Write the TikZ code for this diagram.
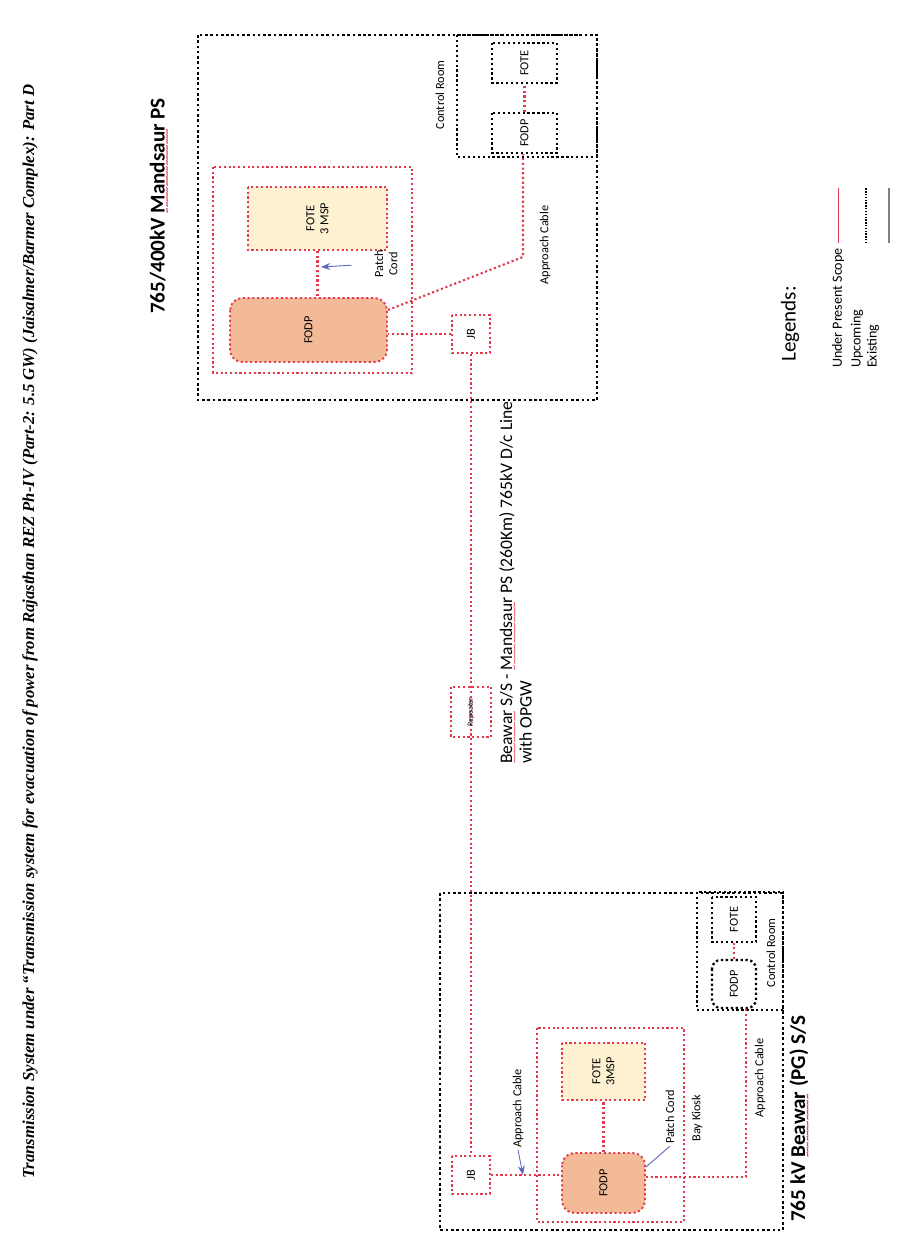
\documentclass[tikz,border=0pt]{standalone}
\usepackage{fontspec}
\setmainfont{Carlito}
\newfontfamily\headfont{Liberation Serif}
\usetikzlibrary{arrows.meta,calc,positioning}
\definecolor{ScopeRed}{RGB}{226,58,76}
\definecolor{FodpOrange}{RGB}{242,186,150}
\definecolor{FoteCream}{RGB}{253,241,210}
\definecolor{LeaderBlue}{RGB}{92,100,196}
\newcommand{\squig}[1]{\setbox0=\hbox{#1}\rlap{\lower3.2pt\hbox to \wd0{\color{ScopeRed}\fontsize{6}{6}\selectfont\leaders\hbox{\textasciitilde}\hfill}}#1}

\begin{document}
\begin{tikzpicture}[x=0.02cm,y=0.02cm,>=Stealth,
  station/.style={draw=black,line width=1.5pt,dash pattern=on 1.5pt off 1.5pt},
  room/.style={draw=black,line width=1.3pt,dash pattern=on 1.3pt off 1.5pt},
  kiosk/.style={draw=ScopeRed,line width=1.1pt,dash pattern=on 1.2pt off 1.5pt},
  fodp/.style={kiosk,fill=FodpOrange,rounded corners=7pt},
  fote/.style={kiosk,fill=FoteCream,align=center},
  cable/.style={ScopeRed,line width=1.2pt,dash pattern=on 1.2pt off 1.5pt},
  lbl/.style={font=\fontsize{7}{8}\selectfont,inner sep=1pt},
  leader/.style={LeaderBlue,line width=0.5pt}]
\begin{scope}[rotate=90,transform shape]
\useasboundingbox (0,0) rectangle (1239,901);
\node[anchor=west,font=\headfont\bfseries\itshape\fontsize{9.5}{10}\selectfont] (title) at (54,871)
  {Transmission System under “Transmission system for evacuation of power from Rajasthan REZ Ph-IV (Part-2: 5.5 GW) (Jaisalmer/Barmer Complex): Part D};

% Mandsaur end
\node[station,minimum width=7.3cm,minimum height=7.98cm] (stnM) at (1021.5,503.5) {};
\node[anchor=west,font=\bfseries\fontsize{12}{14}\selectfont] (nameM) at (919,741) {765/400kV \squig{Mandsaur} PS};
\node[room,minimum width=2.44cm,minimum height=2.8cm] (crM) at (1143,374) {};
\node[lbl] (crlM) at (1144,461) {Control Room};
\node[room,lbl,minimum width=0.8cm,minimum height=1.3cm] (crfodpM) at (1106,376.5) {FODP};
\node[room,lbl,minimum width=0.8cm,minimum height=1.3cm] (crfoteM) at (1176,376.5) {FOTE};
\draw[cable] (crfodpM) -- (crfoteM);
\node[kiosk,minimum width=4.12cm,minimum height=3.98cm] (kioskM) at (969,588.5) {};
\node[fote,lbl,minimum width=1.26cm,minimum height=2.78cm] (foteM) at (1020.5,583.5) {FOTE\\3 MSP};
\node[fodp,lbl,minimum width=1.28cm,minimum height=3.14cm] (fodpM) at (909,592.5) {FODP};
\draw[cable] (foteM.west) -- (foteM.west -| fodpM.east);
\node[lbl,align=center] (patchM) at (975,515) {Patch\\Cord};
\coordinate (cordM) at (972,580);
\draw[leader,->,shorten <=12pt] (patchM.north) -- (cordM);
\node[kiosk,lbl,fill=white,minimum size=0.76cm] (jbM) at (905,430) {JB};
\draw[cable] (jbM.north) -- (jbM.north |- fodpM.south);
\coordinate (bendM) at (982,378);
\draw[cable] ($(fodpM.south)+(20,0)$) -- (bendM) -- (bendM -| crfodpM.west);
\node[lbl] (apM) at (994,356) {Approach Cable};

% Beawar end
\node[station,minimum width=6.74cm,minimum height=6.86cm] (stnB) at (177.5,289.5) {};
\node[anchor=west,font=\bfseries\fontsize{12}{14}\selectfont] (nameB) at (11,101) {765 kV \squig{Beawar} (PG) S/S};
\node[kiosk,minimum width=3.88cm,minimum height=2.94cm] (kioskB) at (114,290.5) {};
\node[fote,lbl,minimum width=1.14cm,minimum height=1.66cm] (foteB) at (167.5,297.5) {FOTE\\3MSP};
\node[fodp,lbl,minimum width=1.2cm,minimum height=1.66cm] (fodpB) at (56,297.5) {FODP};
\draw[cable] (fodpB) -- (foteB);
\node[lbl] (patchB) at (122,231) {Patch Cord};
\draw[leader] (patchB.west) -- ($(fodpB.south)+(16,0)$);
\node[lbl] (bayB) at (121,204) {Bay Kiosk};
\node[room,minimum width=2.36cm,minimum height=1.72cm] (crB) at (288,161) {};
\node[room,lbl,rounded corners=5pt,minimum width=0.96cm,minimum height=0.88cm] (crfodpB) at (255,167) {FODP};
\node[room,lbl,minimum width=0.9cm,minimum height=0.88cm] (crfoteB) at (319.5,167) {FOTE};
\draw[cable] (crfodpB) -- (crfoteB);
\node[lbl] (crlB) at (286,130) {Control Room};
\node[kiosk,lbl,fill=white,minimum size=0.76cm] (jbB) at (64,430) {JB};
\draw[cable] (jbB.south) -- (jbB.south |- fodpB.north);
\node[lbl,anchor=west] (apB) at (89,383) {Approach Cable};
\coordinate (apBtip) at (64,378);
\draw[leader,->] (apB.west) -- (apBtip);
\draw[cable] ($(fodpB.south)+(6,0)$) |- ($(crfodpB.west)+(0,-12)$);
\node[lbl] (apB2) at (161,141) {Approach Cable};

% line between the two ends
\draw[cable] (jbM.west) -- (jbB.east);
\node[kiosk,minimum width=1cm,minimum height=0.8cm,font=\fontsize{4.5}{5}\selectfont] (rep) at (527,430) {Repeater};
\node[anchor=north west,align=left,font=\fontsize{10}{8.6}\selectfont] (lineBM) at (469,408)
  {\squig{Beawar} S/S - \squig{Mandsaur} PS (260Km) 765kV D/c Line\\with OPGW};

% legend
\node[anchor=west,font=\fontsize{12}{14}\selectfont] (lgHead) at (871,111) {Legends:};
\node[lbl,anchor=west,font=\fontsize{8}{9}\selectfont] (lgScope) at (869,63) {Under Present Scope};
\node[lbl,anchor=west,font=\fontsize{8}{9}\selectfont] (lgUp) at (869,44) {Upcoming};
\node[lbl,anchor=west,font=\fontsize{8}{9}\selectfont] (lgEx) at (869,28) {Existing};
\coordinate (lgA) at ($(lgScope.east)+(3,0)$);
\draw[ScopeRed,line width=0.5pt] (lgA) -- ++(55,0);
\draw[black,line width=0.8pt,dash pattern=on 0.8pt off 0.8pt] (lgA |- 0,35) -- ++(55,0);
\draw[gray,line width=0.8pt] (lgA |- 0,12) -- ++(55,0);
\end{scope}
\end{tikzpicture}
\end{document}
